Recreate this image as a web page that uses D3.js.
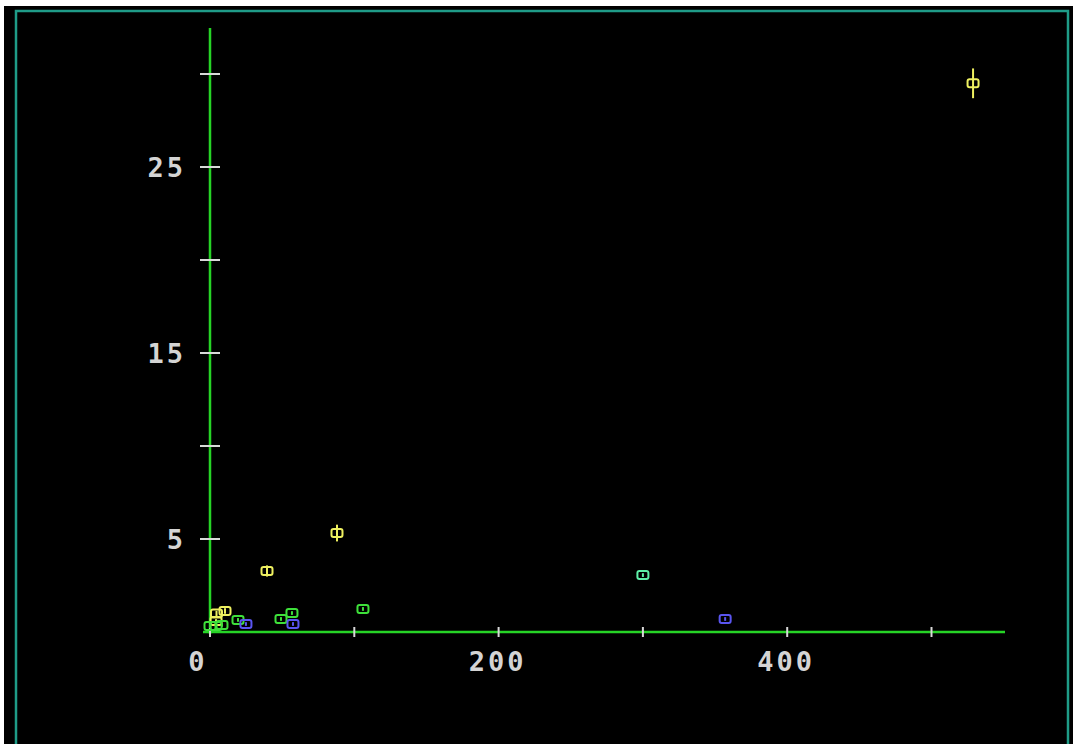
<!DOCTYPE html>
<html>
<head>
<meta charset="utf-8">
<script src="https://cdn.jsdelivr.net/npm/d3@7/dist/d3.min.js"></script>
<style>
  html, body { margin: 0; padding: 0; background: #ffffff; }
  svg { display: block; }
</style>
</head>
<body>
<svg id="chart" width="1073" height="744"></svg>
<script>
// Measurements: x, y, and symmetric y error, grouped by series
const yellowX   = [528.8, 88.0, 39.5, 10.4, 4.5, 4.2];
const yellowY   = [29.5, 5.32, 3.28, 1.13, 0.99, 0.59];
const yellowErr = [0.8, 0.45, 0.3, 0.15, 0.15, 0.1];

const greenX   = [106, 56.8, 49.2, 19.4, 0, 4.2, 8.3];
const greenY   = [1.24, 1.02, 0.70, 0.65, 0.32, 0.32, 0.38];
const greenErr = [0.1, 0.1, 0.1, 0.1, 0.1, 0.1, 0.1];

const mintX   = [300];
const mintY   = [3.06];
const mintErr = [0.1];

const blueX   = [357, 57.5, 24.9];
const blueY   = [0.70, 0.43, 0.43];
const blueErr = [0.1, 0.1, 0.1];

const xTicks = [0, 100, 200, 300, 400, 500];
const xLabels = [0, 200, 400];
const yTicks = [5, 10, 15, 20, 25, 30];
const yLabels = [5, 15, 25];

const series = [
  { name: "yellow", color: "#eef060", xs: yellowX, ys: yellowY, es: yellowErr },
  { name: "green",  color: "#3ee03a", xs: greenX,  ys: greenY,  es: greenErr },
  { name: "mint",   color: "#5ef0a8", xs: mintX,   ys: mintY,   es: mintErr },
  { name: "blue",   color: "#5a55f0", xs: blueX,   ys: blueY,   es: blueErr }
];

const svg = d3.select("#chart");

// dark panel with teal frame
svg.append("rect").attr("x", 4).attr("y", 6).attr("width", 1069).attr("height", 738).attr("fill", "#000");
svg.append("rect").attr("x", 16).attr("y", 11).attr("width", 1052).attr("height", 740)
  .attr("fill", "none").attr("stroke", "#1f9c88").attr("stroke-width", 2.5);

const x = d3.scaleLinear().domain([0, 500]).range([210, 931.5]);
const y = d3.scaleLinear().domain([0, 30]).range([632, 74]);

// axis lines
svg.append("line").attr("x1", 203).attr("x2", 1005).attr("y1", y(0)).attr("y2", y(0))
  .attr("stroke", "#26d426").attr("stroke-width", 2.5);
svg.append("line").attr("x1", x(0)).attr("x2", x(0)).attr("y1", 28).attr("y2", 634)
  .attr("stroke", "#26d426").attr("stroke-width", 2.5);

// tick marks
svg.append("g").selectAll("line").data(yTicks).join("line")
  .attr("x1", x(0) - 10).attr("x2", x(0) + 10)
  .attr("y1", d => y(d)).attr("y2", d => y(d))
  .attr("stroke", "#d8d8d8").attr("stroke-width", 2);
svg.append("g").selectAll("line").data(xTicks).join("line")
  .attr("x1", d => x(d)).attr("x2", d => x(d))
  .attr("y1", y(0) - 5).attr("y2", y(0) + 5)
  .attr("stroke", "#d8d8d8").attr("stroke-width", 2);

const font = "'DejaVu Sans Mono', 'Liberation Mono', monospace";

svg.append("g").selectAll("text").data(yLabels).join("text")
  .attr("x", 186).attr("y", d => y(d)).attr("dy", "0.36em")
  .attr("text-anchor", "end")
  .attr("font-family", font).attr("font-size", 27).attr("font-weight", "bold")
  .attr("letter-spacing", 3).attr("fill", "#d4d4d4")
  .text(d => d);

svg.append("g").selectAll("text").data(xLabels).join("text")
  .attr("x", d => d === 0 ? x(d) - 12 : x(d) - 1).attr("y", 661).attr("dy", "0.36em")
  .attr("text-anchor", "middle")
  .attr("font-family", font).attr("font-size", 27).attr("font-weight", "bold")
  .attr("letter-spacing", 3).attr("fill", "#d4d4d4")
  .text(d => d);

// points: outlined box with a vertical error bar through its centre
series.forEach(s => {
  const pts = s.xs.map((v, i) => ({ x: v, y: s.ys[i], e: s.es[i] }));
  const g = svg.append("g").attr("class", s.name);
  g.selectAll("line").data(pts).join("line")
    .attr("x1", d => x(d.x)).attr("x2", d => x(d.x))
    .attr("y1", d => y(d.y + d.e)).attr("y2", d => y(d.y - d.e))
    .attr("stroke", s.color).attr("stroke-width", 2);
  g.selectAll("rect").data(pts).join("rect")
    .attr("x", d => x(d.x) - 5.5).attr("y", d => y(d.y) - 4)
    .attr("width", 11).attr("height", 8).attr("rx", 2)
    .attr("fill", "none").attr("stroke", s.color).attr("stroke-width", 2);
});
</script>
</body>
</html>
